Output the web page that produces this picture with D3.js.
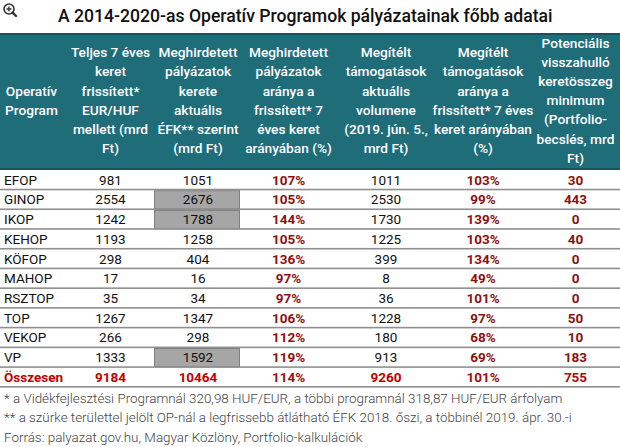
<!DOCTYPE html>
<html><head><meta charset="utf-8">
<script src="https://cdn.jsdelivr.net/npm/d3@7"></script>
<style>
body{margin:0;background:#fff;}
svg{display:block;font-family:Roboto,"Noto Sans",sans-serif;}
</style></head>
<body><svg id="c" width="620" height="447"></svg>
<script>
const title = "A 2014-2020-as Operatív Programok pályázatainak főbb adatai";
const headers = [
  ["Operatív","Program"],
  ["Teljes 7 éves","keret","frissített*","EUR/HUF","mellett (mrd","Ft)"],
  ["Meghirdetett","pályázatok","kerete","aktuális","ÉFK** szerint","(mrd Ft)"],
  ["Meghirdetett","pályázatok","aránya a","frissített* 7","éves keret","arányában (%)"],
  ["Megítélt","támogatások","aktuális","volumene","(2019. jún. 5.,","mrd Ft)"],
  ["Megítélt","támogatások","aránya a","frissített* 7 éves","keret arányában","(%)"],
  ["Potenciális","visszahulló","keretösszeg","minimum","(Portfolio-","becslés, mrd","Ft)"]
];
const programs = ["EFOP","GINOP","IKOP","KEHOP","KÖFOP","MAHOP","RSZTOP","TOP","VEKOP","VP"];
const keret = [981,2554,1242,1193,298,17,35,1267,266,1333];
const meghirdetett = [1051,2676,1788,1258,404,16,34,1347,298,1592];
const meghirdetettArany = [107,105,144,105,136,97,97,106,112,119];
const megitelt = [1011,2530,1730,1225,399,8,36,1228,180,913];
const megiteltArany = [103,99,139,103,134,49,101,97,68,69];
const potencialis = [30,443,0,40,0,0,0,50,10,183];
const grayCell = [false,true,true,false,false,false,false,false,false,true];
const totalLabel = "Összesen";
const totals = [9184,10464,114,9260,101,755];
const footnotes = [
  "* a Vidékfejlesztési Programnál 320,98 HUF/EUR, a többi programnál 318,87 HUF/EUR árfolyam",
  "** a szürke területtel jelölt OP-nál a legfrissebb átlátható ÉFK 2018. őszi, a többinél 2019. ápr. 30.-i",
  "Forrás: palyazat.gov.hu, Magyar Közlöny, Portfolio-kalkulációk"
];

const svg = d3.select("#c");
const W = 620;
const colEdges = [0,63,154,240,337,435,531,620];
const colX = i => colEdges[i];
const colW = i => colEdges[i+1]-colEdges[i];
const colC = i => (colEdges[i]+colEdges[i+1])/2 + (i===1?2:0) + (i===2?1:0);

// title + icon
const ic = svg.append("g").attr("transform","translate(9,9)");
ic.append("circle").attr("r",5).attr("fill","#fff").attr("stroke","#333").attr("stroke-width",1.6);
ic.append("path").attr("d","M-2.5,0H2.5M0,-2.5V2.5").attr("stroke","#333").attr("stroke-width",1.4);
ic.append("path").attr("d","M3.6,3.6L7,7").attr("stroke","#333").attr("stroke-width",2.4).attr("stroke-linecap","round");
svg.append("text").attr("x",58).attr("y",22).attr("font-size",17.6).attr("font-weight",500)
  .attr("fill","#111").text(title);

// header
const hTop = 33, hBot = 170;
svg.append("rect").attr("x",0).attr("y",hTop).attr("width",W).attr("height",hBot-hTop).attr("fill","#1f6d79");
svg.append("rect").attr("x",0).attr("y",hTop).attr("width",W).attr("height",2).attr("fill","#16535d");
svg.append("rect").attr("x",0).attr("y",hBot-2).attr("width",W).attr("height",2).attr("fill","#16535d");
const lh = 19.2, hMid = 100.5;
headers.forEach((lines,i)=>{
  const t = svg.append("text").attr("font-size",13.7).attr("fill","#fff").attr("font-weight",500)
    .attr("text-anchor","middle");
  const y0 = hMid - (lines.length-1)*lh/2 + 4.7;
  lines.forEach((l,j)=>{
    t.append("tspan").attr("x",colC(i)).attr("y",y0+j*lh).text(l);
  });
});

// body
const rows = programs.map((p,i)=>({name:p, vals:[keret[i],meghirdetett[i],meghirdetettArany[i]+"%",megitelt[i],megiteltArany[i]+"%",potencialis[i]], gray:grayCell[i], total:false}));
rows.push({name:totalLabel, vals:[totals[0],totals[1],totals[2]+"%",totals[3],totals[4]+"%",totals[5]], gray:false, total:true});
const y = d3.scaleBand().domain(d3.range(rows.length)).range([hBot, 387]).padding(0);

const g = svg.append("g");
rows.forEach((r,i)=>{
  const ry = y(i), rh = y.bandwidth();
  if(r.gray){
    g.append("rect").attr("x",colX(2)+0.5).attr("y",ry+1).attr("width",colW(2)-1).attr("height",rh-1.5)
      .attr("fill","#a6a6a6").attr("stroke","#7f7f7f").attr("stroke-width",1);
  }
  const ty = ry + rh/2 + 4.8;
  g.append("text").attr("x",4).attr("y",ty).attr("font-size",13.5)
    .attr("fill", r.total? "#c00000":"#111").attr("font-weight", r.total?700:400).text(r.name);
  r.vals.forEach((v,k)=>{
    const c = k+1;
    const isPct = (k===2||k===4||k===5);
    let fill = isPct ? "#8e1111" : "#111";
    let fw = isPct ? 700 : 400;
    if(r.total){ fw = 700; fill = isPct ? "#9a0f0f" : "#c00000"; if(k===5) fill="#a30d0d"; }
    g.append("text").attr("x",colC(c)).attr("y",ty).attr("text-anchor","middle")
      .attr("font-size",13.5).attr("font-weight",fw).attr("fill",fill).text(v);
  });
  g.append("rect").attr("x",0).attr("y",ry+rh-1).attr("width",W).attr("height",1.6)
    .attr("fill", "#8f8f8f");
});

// footnotes
footnotes.forEach((f,i)=>{
  svg.append("text").attr("x",4).attr("y",403+i*19.3).attr("font-size",13.4).attr("fill","#444")
    .attr("font-weight",300).text(f);
});
</script></body></html>
